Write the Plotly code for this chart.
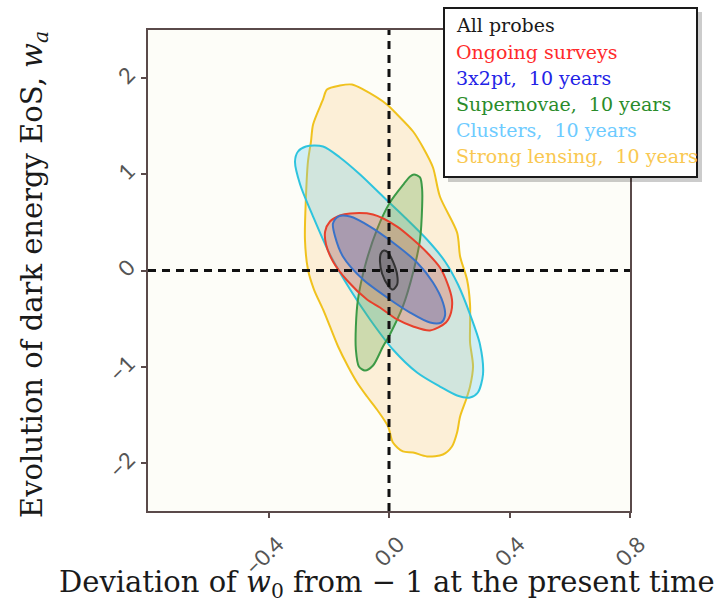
import plotly.graph_objects as go

# ---- data ----
x_ticks = [-0.4, 0.0, 0.4, 0.8]
x_tick_text = ["−0.4", "0.0", "0.4", "0.8"]
y_ticks = [-2, -1, 0, 1, 2]
y_tick_text = ["−2", "−1", "0", "1", "2"]

lens_x = [-0.123, -0.086, -0.007, 0.027, 0.080, 0.113, 0.146, 0.169, 0.226, 0.236, 0.259, 0.269, 0.269, 0.269,
          0.279, 0.269, 0.256, 0.236, 0.226, 0.209, 0.179, 0.126, 0.080, 0.046, 0.013, -0.003, -0.040, -0.073,
          -0.106, -0.136, -0.169, -0.196, -0.219, -0.249, -0.269, -0.279, -0.276, -0.269, -0.259, -0.252,
          -0.219, -0.206, -0.163]
lens_y = [1.933, 1.882, 1.726, 1.622, 1.445, 1.279, 1.071, 0.769, 0.395, 0.146, -0.094, -0.353, -0.582, -0.748,
          -0.998, -1.206, -1.341, -1.518, -1.684, -1.830, -1.913, -1.933, -1.892, -1.881, -1.788, -1.622, -1.445,
          -1.310, -1.164, -0.998, -0.790, -0.582, -0.405, -0.198, 0.010, 0.322, 0.738, 1.133, 1.341, 1.518,
          1.778, 1.882, 1.923]

clus_x = [-0.276, -0.219, -0.163, -0.096, -0.020, 0.053, 0.126, 0.186, 0.229, 0.269, 0.302, 0.312, 0.295, 0.269,
          0.226, 0.169, 0.093, 0.013, -0.063, -0.129, -0.196, -0.252, -0.295, -0.312, -0.302]
clus_y = [1.289, 1.289, 1.175, 0.998, 0.769, 0.551, 0.322, 0.094, -0.146, -0.457, -0.769, -1.081, -1.268, -1.320,
          -1.299, -1.206, -1.060, -0.821, -0.509, -0.198, 0.166, 0.561, 0.894, 1.133, 1.237]

sn_x = [0.083, 0.103, 0.110, 0.110, 0.103, 0.080, 0.046, 0.003, -0.020, -0.053, -0.080, -0.100, -0.110, -0.110,
        -0.103, -0.080, -0.040, 0.003, 0.050, 0.070]
sn_y = [0.998, 0.967, 0.842, 0.665, 0.322, -0.021, -0.374, -0.665, -0.790, -0.988, -1.040, -0.998, -0.821, -0.582,
        -0.301, 0.042, 0.426, 0.707, 0.904, 0.977]

ong_x = [-0.129, -0.053, 0.027, 0.080, 0.126, 0.169, 0.193, 0.209, 0.206, 0.189, 0.136, 0.080, 0.027, -0.030,
         -0.073, -0.139, -0.186, -0.209, -0.212, -0.196, -0.163]
ong_y = [0.593, 0.582, 0.457, 0.322, 0.187, 0.031, -0.125, -0.301, -0.437, -0.541, -0.624, -0.582, -0.509, -0.385,
         -0.301, -0.104, 0.094, 0.270, 0.405, 0.509, 0.572]

tx_x = [-0.169, -0.129, -0.063, 0.013, 0.093, 0.146, 0.179, 0.186, 0.173, 0.136, 0.070, 0.003, -0.086, -0.153,
        -0.179, -0.186]
tx_y = [0.561, 0.561, 0.457, 0.291, 0.083, -0.125, -0.333, -0.468, -0.541, -0.541, -0.437, -0.301, -0.094, 0.146,
        0.353, 0.489]

all_x = [-0.017, -0.003, 0.013, 0.027, 0.027, 0.013, -0.003, -0.023, -0.030, -0.027]
all_y = [0.208, 0.187, 0.094, -0.042, -0.146, -0.198, -0.156, -0.031, 0.094, 0.177]

legend_labels = ["All probes", "Ongoing surveys", "3x2pt,\u00a0 10 years", "Supernovae,\u00a0 10 years",
                 "Clusters,\u00a0 10 years", "Strong lensing,\u00a0 10 years"]
legend_colors = ["#1a1a1a", "#ff2b2b", "#2323e6", "#2a8c2a", "#6dcbff", "#f9c851"]

# ---- figure ----
fig = go.Figure()

contours = [
    (lens_x, lens_y, "#f0c21e", "rgba(250,205,130,0.28)"),
    (clus_x, clus_y, "#2ec4de", "rgba(110,205,235,0.30)"),
    (sn_x, sn_y, "#3c9a46", "rgba(95,170,80,0.30)"),
    (ong_x, ong_y, "#e8402c", "rgba(230,95,70,0.32)"),
    (tx_x, tx_y, "#3a72c8", "rgba(70,90,180,0.32)"),
    (all_x, all_y, "#333333", "rgba(80,80,80,0.35)"),
]
for xs, ys, lc, fc in contours:
    fig.add_trace(go.Scatter(
        x=xs + [xs[0]], y=ys + [ys[0]], mode="lines", fill="toself",
        line=dict(color=lc, width=2, shape="spline", smoothing=0.8),
        fillcolor=fc, hoverinfo="skip", showlegend=False))

# reference dashed lines
fig.add_shape(type="line", xref="x", yref="paper", x0=0, x1=0, y0=0, y1=1,
              line=dict(color="#111111", width=3, dash="8px,6px"), layer="above")
fig.add_shape(type="line", xref="paper", yref="y", x0=0, x1=1, y0=0, y1=0,
              line=dict(color="#111111", width=3, dash="8px,6px"), layer="above")

# legend box with shadow
L, R, T, B = 148, 630, 30, 511
def px_x(p):
    return (p - L) / (R - L)
def px_y(p):
    return (B - p) / (B - T)

fig.add_shape(type="rect", xref="paper", yref="paper", x0=px_x(448), x1=px_x(702), y0=px_y(12), y1=px_y(182),
              fillcolor="rgba(0,0,0,0.2)", line=dict(width=0), layer="above")
fig.add_shape(type="rect", xref="paper", yref="paper", x0=px_x(444), x1=px_x(697), y0=px_y(8), y1=px_y(177),
              fillcolor="white", line=dict(color="#1a1a1a", width=2), layer="above")
row_centers = [25, 51.5, 77.5, 104, 130, 156]
for t, c, yc in zip(legend_labels, legend_colors, row_centers):
    fig.add_annotation(xref="paper", yref="paper", x=px_x(454), y=px_y(yc), xanchor="left", yanchor="middle",
                       text=t, showarrow=False, align="left",
                       font=dict(family="DejaVu Serif", size=19, color=c))

# axis titles
fig.add_annotation(xref="paper", yref="paper", x=px_x(387), y=px_y(584), xanchor="center", yanchor="middle",
                   text="Deviation of <i>w</i><sub>0</sub> from − 1 at the present time", showarrow=False,
                   font=dict(family="DejaVu Serif", size=29, color="#1a1a1a"))
fig.add_annotation(xref="paper", yref="paper", x=px_x(34), y=px_y(275), xanchor="center", yanchor="middle",
                   text="Evolution of dark energy EoS, <i>w<sub>a</sub></i>", showarrow=False, textangle=-90,
                   font=dict(family="DejaVu Serif", size=29, color="#1a1a1a"))

axis_common = dict(showline=True, linecolor="#5a4a4a", linewidth=1.5, mirror=True, showgrid=False,
                   zeroline=False, ticks="outside", ticklen=5, tickcolor="#5a4a4a", tickwidth=1.5,
                   tickangle=-45, tickfont=dict(family="Lato", size=22, color="#555555"))
fig.update_xaxes(range=[-0.8, 0.8], tickvals=x_ticks, ticktext=x_tick_text,
                 ticklabelshift=9, ticklabelstandoff=5, **axis_common)
fig.update_yaxes(range=[-2.5, 2.5], tickvals=y_ticks, ticktext=y_tick_text,
                 ticklabelstandoff=8, ticklabelshift=-6, **axis_common)

fig.update_layout(width=727, height=603, margin=dict(l=L, r=727 - R, t=T, b=603 - B),
                  paper_bgcolor="white", plot_bgcolor="#fdfdf8", showlegend=False)

fig.write_html("out.html")
